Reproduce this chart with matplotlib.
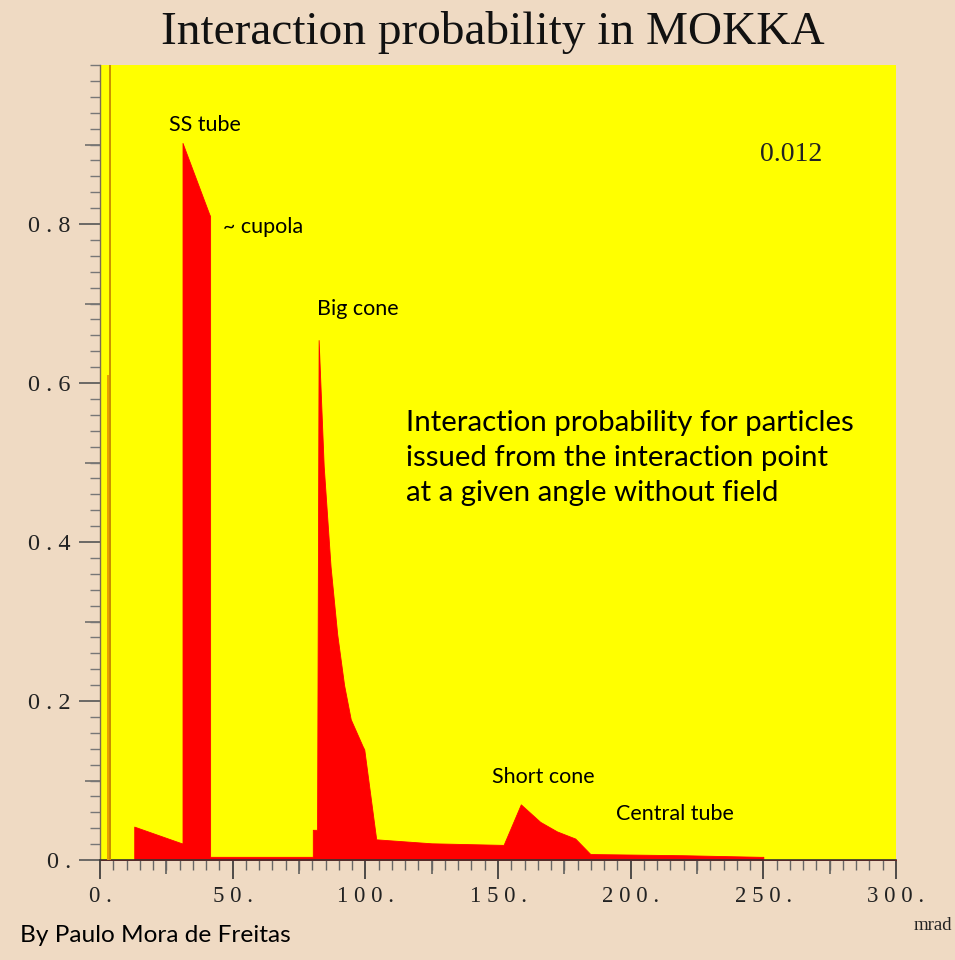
import matplotlib
matplotlib.use("Agg")
import matplotlib.pyplot as plt
from matplotlib.ticker import MultipleLocator, FixedLocator

# ---- data ----
angle_mrad = [0, 12.9, 12.9, 30.8, 31.1, 31.1, 41.1, 41.5, 41.5, 80.2, 80.2,
              81.8, 82.4, 84.3, 86.9, 89.4, 92.0, 94.5, 99.0, 99.6, 104.1,
              125.0, 152.1, 158.6, 165.9, 172.2, 179.1, 184.8, 220.0, 248.9,
              250.0, 250.0, 300.0]
probability = [0, 0, 0.042, 0.021, 0.021, 0.902, 0.813, 0.810, 0.004, 0.004,
               0.038, 0.038, 0.654, 0.496, 0.369, 0.284, 0.220, 0.177, 0.143,
               0.139, 0.026, 0.021, 0.019, 0.070, 0.048, 0.036, 0.027, 0.0075,
               0.006, 0.004, 0.004, 0, 0]

spike_angle = [3.2, 3.7, 3.8]
spike_prob = [0.61, 0.44, 1.0]

y_tick_values = [0.0, 0.2, 0.4, 0.6, 0.8]
y_tick_labels = ["0 .", "0 . 2", "0 . 4", "0 . 6", "0 . 8"]
x_tick_values = [0, 50, 100, 150, 200, 250, 300]
x_tick_labels = ["0 .", "5 0 .", "1 0 0 .", "1 5 0 .", "2 0 0 .", "2 5 0 .", "3 0 0 ."]

labels = ["SS tube", "~ cupola", "Big cone", "Short cone", "Central tube"]
label_x = [39.5, 46.5, 97.0, 167.0, 216.5]
label_y = [0.925, 0.796, 0.693, 0.104, 0.058]

BG = "#EFDAC3"
W, H = 955, 960
fig = plt.figure(figsize=(W / 100, H / 100), dpi=100, facecolor=BG)

x0, x1, y0, y1 = 100, 896, 860, 65
ax = fig.add_axes([x0 / W, 1 - y0 / H, (x1 - x0) / W, (y0 - y1) / H])
ax.set_facecolor("#FFFF00")
ax.set_xlim(0, 300)
ax.set_ylim(0, 1.0)

ax.fill_between(angle_mrad, probability, 0, color="#FF0000", linewidth=0.6,
                edgecolor="#FF0000", zorder=2)
ax.vlines(spike_angle, 0, spike_prob, colors=["#E8A000", "#E08A00", "#C89000"],
          linewidth=1.4, zorder=3)

for s in ["top", "right"]:
    ax.spines[s].set_visible(False)
ax.spines["left"].set_color("#7A6A55")
ax.spines["left"].set_linewidth(1.0)
ax.spines["bottom"].set_color("#333333")
ax.spines["bottom"].set_linewidth(1.2)

ytick_font = dict(family="Liberation Serif", size=17.5, color="#222222")
xtick_font = dict(family="Liberation Serif", size=16.5, color="#222222")
ax.yaxis.set_major_locator(FixedLocator(y_tick_values))
ax.set_yticklabels(y_tick_labels, **ytick_font)
ax.yaxis.set_minor_locator(MultipleLocator(0.02))
ax.xaxis.set_major_locator(FixedLocator(x_tick_values))
ax.set_xticklabels(x_tick_labels, **xtick_font)
ax.xaxis.set_minor_locator(MultipleLocator(5))
ax.tick_params(axis="y", which="major", length=15, width=1.2, color="#555555", pad=6)
ax.tick_params(axis="y", which="minor", length=7, width=1.0, color="#777777")
ax.tick_params(axis="x", which="major", length=14, width=1.2, color="#333333", pad=5)
ax.tick_params(axis="x", which="minor", length=7, width=1.0, color="#666666")

# medium ticks
sy = ax.secondary_yaxis("left")
sy.set_yticks([0.1, 0.3, 0.5, 0.7, 0.9])
sy.set_yticklabels([])
sy.tick_params(length=11, width=1.1, color="#666666")
sy.spines["left"].set_visible(False)
sx = ax.secondary_xaxis("bottom")
sx.set_xticks([25, 75, 125, 175, 225, 275])
sx.set_xticklabels([])
sx.tick_params(length=10, width=1.1, color="#555555")
sx.spines["bottom"].set_visible(False)

lab_font = dict(family="Lato", size=15.5, color="black")
for t, lx, ly in zip(labels, label_x, label_y):
    ax.text(lx, ly, t, ha="center" if t != "~ cupola" else "left",
            va="center", **lab_font)

ax.text(115.5, 0.506, "Interaction probability for particles\nissued from the interaction point\nat a given angle without field",
        ha="left", va="center", family="Lato", size=21.2, linespacing=1.42, color="black")
ax.text(260.5, 0.887, "0.012", ha="center", va="center", family="Liberation Serif",
        size=20, color="#222222")

fig.text(493 / W, 1 - 33 / H, "Interaction probability in MOKKA", ha="center", va="center",
         family="Liberation Serif", size=34, color="#111111")
fig.text(20 / W, 1 - 935 / H, "By Paulo Mora de Freitas", ha="left", va="center",
         family="Lato", size=17.6, color="black")
fig.text(952 / W, 1 - 925 / H, "mrad", ha="right", va="center",
         family="Liberation Serif", size=13.5, color="#222222")

fig.savefig("out.png", dpi=100, facecolor=BG)
